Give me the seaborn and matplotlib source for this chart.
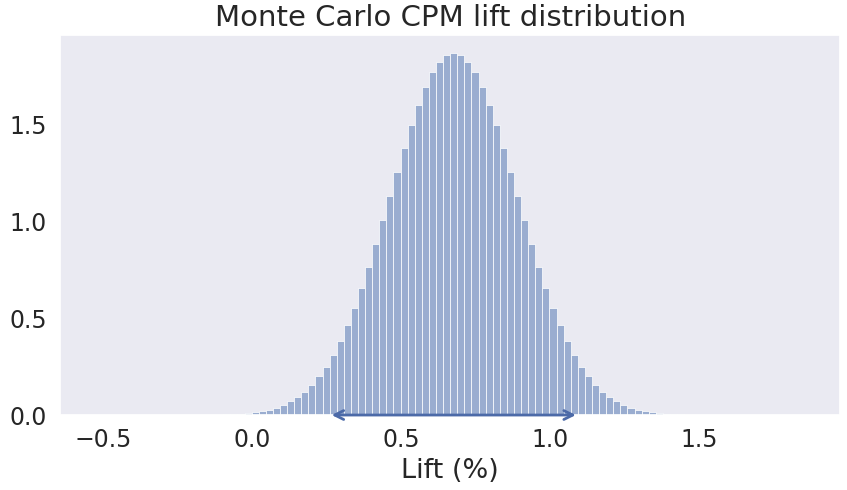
import numpy as np
import pandas as pd
import matplotlib
matplotlib.use("Agg")
import matplotlib.pyplot as plt
import seaborn as sns

# histogram: 100 bins, density values
bin_start = -0.525
bin_width = 0.0238
density = ([0.0] * 14 +
           [0.0005, 0.0009, 0.0014, 0.0022, 0.0032, 0.0048, 0.0070, 0.0101, 0.0144,
            0.0202, 0.0281, 0.0386, 0.0523, 0.0700, 0.0926, 0.121, 0.156, 0.199,
            0.250, 0.311, 0.381, 0.462, 0.553, 0.654, 0.764, 0.881, 1.004, 1.130,
            1.256, 1.378, 1.494, 1.600, 1.691, 1.767, 1.822, 1.856,
            1.868,
            1.856, 1.822, 1.767, 1.691, 1.600, 1.494, 1.378, 1.256, 1.130, 1.004,
            0.881, 0.764, 0.654, 0.553, 0.462, 0.381, 0.311, 0.250, 0.199, 0.156,
            0.121, 0.0926, 0.0700, 0.0523, 0.0386, 0.0281, 0.0202, 0.0144, 0.0101,
            0.0070, 0.0048, 0.0032, 0.0022, 0.0014, 0.0009, 0.0005] +
           [0.0] * 13)

# 95% interval of the lift
ci_low = 0.258
ci_high = 1.096

edges = bin_start + bin_width * np.arange(len(density) + 1)
centers = (edges[:-1] + edges[1:]) / 2
df = pd.DataFrame({"lift": centers, "density": density})

sns.set_theme(style="dark")
plt.rcParams['font.family'] = ['DejaVu Sans']

fig, ax = plt.subplots(figsize=(8.47, 4.9), dpi=100)
fig.subplots_adjust(left=0.071, right=0.992, top=0.929, bottom=0.153)

sns.histplot(data=df, x="lift", weights="density", bins=edges.tolist(),
             alpha=0.5, ax=ax)

ax.annotate("", xy=(ci_high, 0), xytext=(ci_low, 0),
            arrowprops=dict(arrowstyle="<->", color="#4C6AA8", lw=2,
                            mutation_scale=16))

ax.set_title("Monte Carlo CPM lift distribution", fontsize=21)
ax.set_xlabel("Lift (%)", fontsize=19.5)
ax.set_ylabel("")
ax.set_yticks([0.0, 0.5, 1.0, 1.5])
ax.tick_params(labelsize=17)

plt.savefig("out.png", dpi=100)
